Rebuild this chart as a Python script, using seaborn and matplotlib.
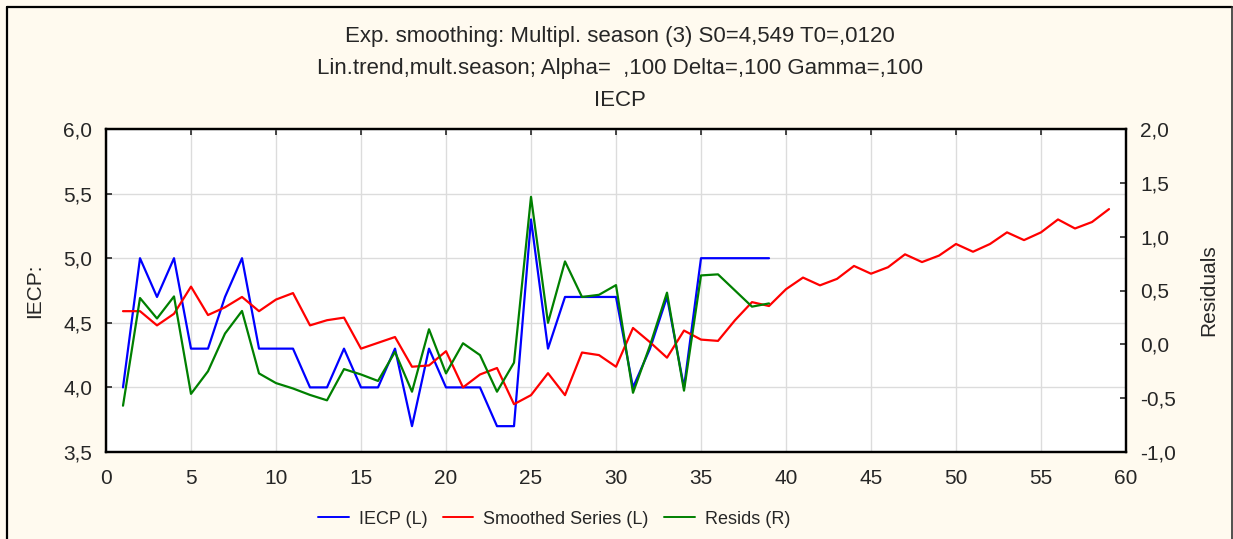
import seaborn as sns
import matplotlib
matplotlib.use("Agg")
import matplotlib.pyplot as plt
import matplotlib.ticker as mt
from matplotlib.lines import Line2D
import pandas as pd
import numpy as np

# values
iecp = [4.0, 5.0, 4.7, 5.0, 4.3, 4.3, 4.7, 5.0, 4.3, 4.3, 4.3, 4.0, 4.0, 4.3, 4.0,
        4.0, 4.3, 3.7, 4.3, 4.0, 4.0, 4.0, 3.7, 3.7, 5.3, 4.3, 4.7, 4.7, 4.7, 4.7,
        4.0, 4.3, 4.7, 4.0, 5.0, 5.0, 5.0, 5.0, 5.0]
smoothed = [4.59, 4.59, 4.48, 4.57, 4.78, 4.56, 4.62, 4.70, 4.59, 4.68, 4.73, 4.48,
            4.52, 4.54, 4.30, 4.345, 4.39, 4.16, 4.17, 4.28, 4.00, 4.10, 4.15, 3.87,
            3.94, 4.11, 3.94, 4.27, 4.25, 4.16, 4.46, 4.35, 4.23, 4.44, 4.37, 4.36,
            4.52, 4.66, 4.63, 4.76, 4.85, 4.79, 4.84, 4.94, 4.88, 4.93, 5.03, 4.97,
            5.02, 5.11, 5.05, 5.11, 5.20, 5.14, 5.20, 5.30, 5.23, 5.28, 5.38]
resids = [-0.57, 0.43, 0.24, 0.445, -0.46, -0.25, 0.10, 0.31, -0.27, -0.36, -0.41,
          -0.47, -0.52, -0.23, -0.28, -0.34, -0.07, -0.44, 0.14, -0.27, 0.01, -0.10,
          -0.44, -0.17, 1.37, 0.20, 0.77, 0.44, 0.46, 0.55, -0.45, -0.01, 0.48, -0.43,
          0.64, 0.65, 0.50, 0.35, 0.38]

title_lines = ["Exp. smoothing: Multipl. season (3) S0=4,549 T0=,0120",
               "Lin.trend,mult.season; Alpha=  ,100 Delta=,100 Gamma=,100",
               "IECP"]
legend_labels = ["IECP (L)", "Smoothed Series (L)", "Resids (R)"]

df1 = pd.DataFrame({"t": np.arange(1, len(iecp) + 1), "v": iecp})
df2 = pd.DataFrame({"t": np.arange(1, len(smoothed) + 1), "v": smoothed})
df3 = pd.DataFrame({"t": np.arange(1, len(resids) + 1), "v": resids})

sns.set_style("white")
plt.rcParams['font.family'] = ['Liberation Sans', 'DejaVu Sans']

W, H = 1233, 539
bg = "#fffaef"
fig = plt.figure(figsize=(W / 100, H / 100), dpi=100, facecolor=bg)
ax = fig.add_axes([106 / W, 1 - 452 / H, (1126 - 106) / W, (452 - 129) / H])
ax.set_facecolor("white")

sns.lineplot(data=df1, x="t", y="v", ax=ax, color="#0000ff", lw=1.6, legend=False)
sns.lineplot(data=df2, x="t", y="v", ax=ax, color="#ff0000", lw=1.6, legend=False)
ax2 = ax.twinx()
sns.lineplot(data=df3, x="t", y="v", ax=ax2, color="#008000", lw=1.6, legend=False)

ax.set_xlim(0, 60)
ax.set_ylim(3.5, 6.0)
ax2.set_ylim(-1.0, 2.0)
ax.set_xticks(np.arange(0, 61, 5))
ax.set_yticks(np.arange(3.5, 6.01, 0.5))
ax2.set_yticks(np.arange(-1.0, 2.01, 0.5))

comma = mt.FuncFormatter(lambda v, p: f"{v:.1f}".replace(".", ","))
ax.yaxis.set_major_formatter(comma)
ax2.yaxis.set_major_formatter(comma)

ax.grid(True, color="#dcdcdc", lw=1)
for a in (ax, ax2):
    for s in a.spines.values():
        s.set_color("black")
        s.set_linewidth(1.6)
ax.tick_params(axis="y", direction="in", length=4, width=1.2, labelsize=15, pad=10)
ax.tick_params(axis="x", direction="in", length=4, width=1.2, labelsize=15, top=True, pad=12)
ax2.tick_params(axis="y", direction="in", length=4, width=1.2, labelsize=15, pad=10)
ax.set_xlabel("")
ax.set_ylabel("IECP:", fontsize=15)
ax2.set_ylabel("Residuals", fontsize=15)
ax.yaxis.set_label_coords((44 - 106) / 1020, 0.5)
ax2.yaxis.set_label_coords((1199 - 106) / 1020, 0.5)

for i, t in enumerate(title_lines):
    fig.text(620 / W, 1 - (36 + i * 32.5) / H, t, ha="center", va="center", fontsize=16)

handles = [Line2D([], [], color=c, lw=1.4) for c in ("#0000ff", "#ff0000", "#008000")]
fig.legend(handles, legend_labels, loc="center",
           bbox_to_anchor=(554 / W, 1 - 519 / H), ncol=3, frameon=False, fontsize=13,
           handlelength=1.7, handletextpad=0.55, columnspacing=0.85)

# outer frame lines (left, top, right)
fig.add_artist(Line2D([6.5 / W, 6.5 / W], [0, 1 - 6.5 / H], color="black", lw=1.6))
fig.add_artist(Line2D([6.5 / W, 1232 / W], [1 - 6.5 / H, 1 - 6.5 / H], color="black", lw=1.6))
fig.add_artist(Line2D([1232 / W, 1232 / W], [0, 1 - 6.5 / H], color="#333333", lw=1.2))

fig.savefig("out.png", dpi=100, facecolor=bg)
